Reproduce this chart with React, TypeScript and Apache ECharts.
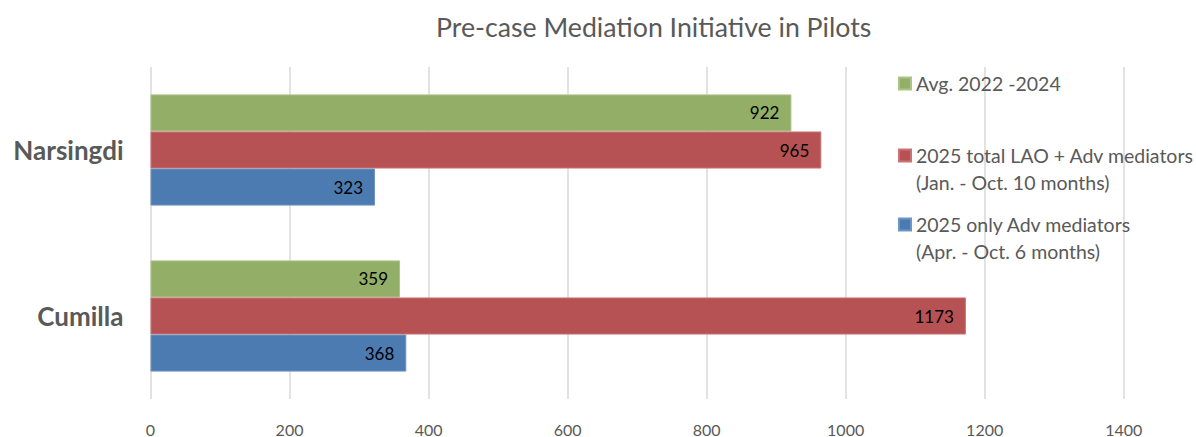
import React, { useEffect, useRef } from "react";
import * as echarts from "echarts";

const categories = ["Cumilla", "Narsingdi"];
const seriesNames = [
  "Avg. 2022 -2024",
  "2025 total LAO + Adv mediators\n(Jan. - Oct. 10 months)",
  "2025 only Adv mediators\n(Apr. - Oct. 6 months)",
];
const avg2022_2024 = [359, 922];
const totalLaoAdv = [1173, 965];
const onlyAdv = [368, 323];
const xTicks = [0, 200, 400, 600, 800, 1000, 1200, 1400];

const colors = ["#93AF67", "#B65254", "#4C7BB1"];
const borders = ["#ABC488", "#CB7374", "#6F95C4"];
const seriesData = [avg2022_2024, totalLaoAdv, onlyAdv];

export default function App() {
  const ref = useRef<HTMLDivElement>(null);
  useEffect(() => {
    if (!ref.current) return;
    document.body.style.margin = "0";
    const chart = echarts.init(ref.current, undefined, { renderer: "svg" });
    const font = "Lato, 'Open Sans', sans-serif";
    const legendText = {
      color: "#595959",
      fontSize: 19.5,
      fontFamily: font,
      lineHeight: 27,
    };
    const legendTops = [70, 115, 184];
    chart.setOption({
      animation: false,
      title: {
        text: "Pre-case Mediation Initiative in Pilots",
        left: 431,
        top: 8,
        textStyle: {
          color: "#595959",
          fontSize: 26.7,
          fontWeight: "normal",
          fontFamily: font,
        },
      },
      legend: seriesNames.map((name, i) => ({
        orient: "vertical",
        left: 898,
        top: legendTops[i],
        padding: 0,
        itemWidth: 12,
        itemHeight: 12,
        icon: "rect",
        data: [name],
        formatter: (n: string) => (n.indexOf("\n") >= 0 ? "\n" + n : n),
        textStyle: legendText,
      })),
      grid: { left: 150.5, right: 72.3, top: 67, bottom: 37, containLabel: false },
      xAxis: {
        type: "value",
        min: xTicks[0],
        max: xTicks[xTicks.length - 1],
        interval: 200,
        axisLine: { show: false },
        axisTick: { show: false },
        splitLine: { lineStyle: { color: "#D9D9D9", width: 1.5 } },
        axisLabel: {
          color: "#595959",
          fontSize: 16,
          fontFamily: font,
          margin: 22,
          formatter: (v: number) => String(v),
        },
      },
      yAxis: {
        type: "category",
        data: categories,
        axisLine: { show: false },
        axisTick: { show: false },
        axisLabel: {
          color: "#595959",
          fontSize: 26,
          fontWeight: "bold",
          fontFamily: font,
          margin: 27,
        },
      },
      series: seriesData.map((d, i) => ({
        type: "bar",
        name: seriesNames[i],
        data: d,
        barGap: "0%",
        barCategoryGap: "33%",
        itemStyle: { color: colors[i], borderColor: borders[i], borderWidth: 1 },
        label: {
          show: true,
          position: "insideRight",
          distance: 12,
          color: "#000000",
          fontSize: 17,
          fontFamily: font,
        },
      })),
    });
    return () => chart.dispose();
  }, []);
  return <div ref={ref} style={{ width: 1196, height: 437 }} />;
}
